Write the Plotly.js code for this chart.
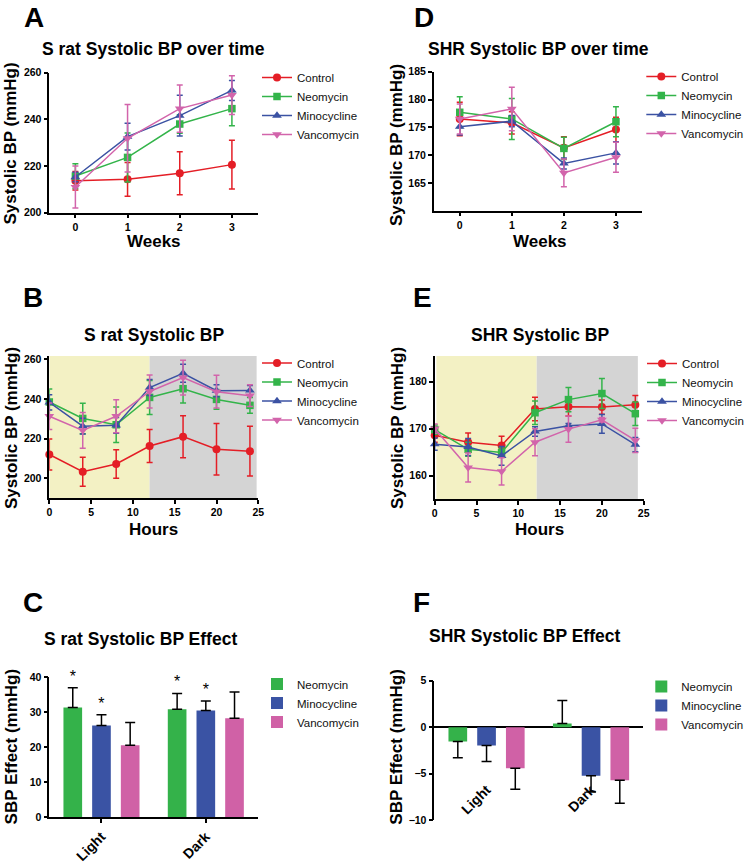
<!DOCTYPE html>
<html><head><meta charset="utf-8">
<script src="https://cdn.plot.ly/plotly-3.0.1.min.js"></script>
<style>html,body{margin:0;padding:0;background:#fff}#chart{width:745px;height:866px}</style>
</head><body><div id="chart"></div>
<script>
// ---------- DATA ----------
const seriesNames = ['Control', 'Neomycin', 'Minocycline', 'Vancomycin'];
const barNames = ['Neomycin', 'Minocycline', 'Vancomycin'];
const weeks = [0, 1, 2, 3];
const hours = [0, 4, 8, 12, 16, 20, 24];
const phases = ['Light', 'Dark'];

// A: S rat systolic BP over time (weeks)
const sWeekControl = [213.7, 214.3, 216.9, 220.6];
const sWeekControlErr = [4, 7.2, 9.2, 10.4];
const sWeekNeo = [215.7, 223.7, 238.0, 244.6];
const sWeekNeoErr = [5.3, 10.5, 4, 7.3];
const sWeekMino = [215.3, 232.6, 241.6, 252.4];
const sWeekMinoErr = [2, 5.7, 8.7, 4.3];
const sWeekVanc = [211.0, 231.9, 244.6, 250.4];
const sWeekVancErr = [9, 14.5, 10.1, 8.3];

// D: SHR systolic BP over time (weeks)
const shrWeekControl = [176.5, 175.8, 171.3, 174.6];
const shrWeekControlErr = [3, 2, 2, 2.2];
const shrWeekNeo = [177.7, 176.5, 171.2, 176.0];
const shrWeekNeoErr = [2.8, 3.7, 2, 2.7];
const shrWeekMino = [175.1, 176.1, 168.5, 170.4];
const shrWeekMinoErr = [1.5, 1, 1, 2];
const shrWeekVanc = [176.5, 178.3, 166.8, 169.6];
const shrWeekVancErr = [2.7, 3.9, 2.5, 2.7];

// B: S rat systolic BP over 24 h
const sHourControl = [212.0, 203.3, 207.2, 216.3, 221.0, 214.7, 213.7];
const sHourControlErr = [7.8, 7.3, 7.2, 8.3, 10.6, 13, 12.5];
const sHourNeo = [238.5, 230.2, 227.0, 240.8, 245.2, 239.8, 236.8];
const sHourNeoErr = [6.5, 7.7, 9, 8.6, 7.2, 5, 4];
const sHourMino = [238.3, 226.3, 226.7, 245.8, 253.0, 244.2, 244.3];
const sHourMinoErr = [3.8, 4, 4, 4, 4.5, 3, 2.5];
const sHourVanc = [231.3, 224.2, 231.3, 243.8, 250.8, 243.7, 241.7];
const sHourVancErr = [6.7, 9, 8.3, 8.3, 8.8, 8.3, 5.5];

// E: SHR systolic BP over 24 h
const shrHourControl = [168.6, 167.1, 166.4, 174.2, 174.7, 174.6, 175.1];
const shrHourControlErr = [1.5, 2, 2, 2.5, 2, 1.5, 2];
const shrHourNeo = [169.8, 165.6, 164.9, 173.4, 176.2, 177.5, 173.2];
const shrHourNeoErr = [1, 1.5, 1, 2.5, 2.6, 3.2, 2.5];
const shrHourMino = [166.7, 166.1, 164.2, 169.4, 170.6, 171.0, 166.6];
const shrHourMinoErr = [1.3, 1.8, 2, 1, 0.5, 2, 1.5];
const shrHourVanc = [170.0, 161.7, 160.9, 167.1, 169.9, 171.9, 167.5];
const shrHourVancErr = [1, 3.1, 2.9, 2.9, 2.8, 0.5, 2.6];

// light / dark phases (hours)
const sLightPhase = [0, 12];
const sDarkPhase = [12, 24.8];
const shrLightPhase = [0.2, 12.2];
const shrDarkPhase = [12.2, 24.3];

// C: S rat SBP effect
const cNeo = [31.4, 30.9];
const cNeoErr = [5.6, 4.5];
const cMino = [26.2, 30.5];
const cMinoErr = [3.1, 2.7];
const cVanc = [20.6, 28.3];
const cVancErr = [6.5, 7.5];
const cNeoSig = ['*', '*'];
const cMinoSig = ['*', '*'];
const cVancSig = ['', ''];

// F: SHR SBP effect
const fNeo = [-1.54, 0.39];
const fNeoErr = [1.76, 2.48];
const fMino = [-1.97, -5.23];
const fMinoErr = [1.72, 1.76];
const fVanc = [-4.44, -5.73];
const fVancErr = [2.26, 2.47];

// tick values
const ticksA = [200, 220, 240, 260];
const ticksD = [165, 170, 175, 180, 185];
const ticksB = [200, 220, 240, 260];
const ticksE = [160, 170, 180];
const ticksHours = [0, 5, 10, 15, 20, 25];
const ticksC = [0, 10, 20, 30, 40];
const ticksF = [-10, -5, 0, 5];

// ---------- STYLE ----------
const W = 745, H = 866;
const FONT = 'Liberation Sans, Arial, Helvetica, sans-serif';
const px = v => v / W;
const py = v => 1 - v / H;
const lineColors = ['#e41e26', '#33b44a', '#3b52a3', '#d264ab'];
const barColors = ['#34b24a', '#3a53a4', '#d061a6'];
const symbols = ['circle', 'square', 'triangle-up', 'triangle-down'];
const sizes = [8, 7.5, 8.5, 8.5];

function lineTrace(i, x, y, err, xa, ya, leg) {
  return {
    type: 'scatter', mode: 'lines+markers', name: seriesNames[i], x: x, y: y,
    xaxis: xa, yaxis: ya, legend: leg, cliponaxis: false, hoverinfo: 'x+y',
    line: {color: lineColors[i], width: 1.5},
    marker: {color: lineColors[i], symbol: symbols[i], size: sizes[i]},
    error_y: {type: 'data', array: err, visible: true, color: lineColors[i], thickness: 1.5, width: 3}
  };
}

function barTrace(i, y, err, xa, ya, leg) {
  return {
    type: 'bar', name: barNames[i], x: phases, y: y, xaxis: xa, yaxis: ya, legend: leg,
    offsetgroup: 'g' + i, marker: {color: barColors[i], line: {width: 0}},
    error_y: {type: 'data', symmetric: false,
      array: y.map((v, k) => v >= 0 ? err[k] : 0),
      arrayminus: y.map((v, k) => v < 0 ? err[k] : 0),
      color: '#000', thickness: 1.5, width: 5, visible: true}
  };
}

function starTrace(i, y, err, sig, xa, ya) {
  return {
    type: 'bar', x: phases, y: y.map((v, k) => v + err[k]), xaxis: xa, yaxis: ya,
    offsetgroup: 'g' + i, showlegend: false, hoverinfo: 'skip', cliponaxis: false,
    marker: {color: 'rgba(0,0,0,0)'}, text: sig, textposition: 'outside',
    textfont: {family: FONT, size: 16, color: '#000'}
  };
}

const data = [
  // A
  lineTrace(0, weeks, sWeekControl, sWeekControlErr, 'x', 'y', 'legend'),
  lineTrace(1, weeks, sWeekNeo, sWeekNeoErr, 'x', 'y', 'legend'),
  lineTrace(2, weeks, sWeekMino, sWeekMinoErr, 'x', 'y', 'legend'),
  lineTrace(3, weeks, sWeekVanc, sWeekVancErr, 'x', 'y', 'legend'),
  // B
  lineTrace(0, hours, sHourControl, sHourControlErr, 'x2', 'y2', 'legend2'),
  lineTrace(1, hours, sHourNeo, sHourNeoErr, 'x2', 'y2', 'legend2'),
  lineTrace(2, hours, sHourMino, sHourMinoErr, 'x2', 'y2', 'legend2'),
  lineTrace(3, hours, sHourVanc, sHourVancErr, 'x2', 'y2', 'legend2'),
  // C
  barTrace(0, cNeo, cNeoErr, 'x3', 'y3', 'legend3'),
  barTrace(1, cMino, cMinoErr, 'x3', 'y3', 'legend3'),
  barTrace(2, cVanc, cVancErr, 'x3', 'y3', 'legend3'),
  starTrace(0, cNeo, cNeoErr, cNeoSig, 'x3', 'y3'),
  starTrace(1, cMino, cMinoErr, cMinoSig, 'x3', 'y3'),
  starTrace(2, cVanc, cVancErr, cVancSig, 'x3', 'y3'),
  // D
  lineTrace(0, weeks, shrWeekControl, shrWeekControlErr, 'x4', 'y4', 'legend4'),
  lineTrace(1, weeks, shrWeekNeo, shrWeekNeoErr, 'x4', 'y4', 'legend4'),
  lineTrace(2, weeks, shrWeekMino, shrWeekMinoErr, 'x4', 'y4', 'legend4'),
  lineTrace(3, weeks, shrWeekVanc, shrWeekVancErr, 'x4', 'y4', 'legend4'),
  // E
  lineTrace(0, hours, shrHourControl, shrHourControlErr, 'x5', 'y5', 'legend5'),
  lineTrace(1, hours, shrHourNeo, shrHourNeoErr, 'x5', 'y5', 'legend5'),
  lineTrace(2, hours, shrHourMino, shrHourMinoErr, 'x5', 'y5', 'legend5'),
  lineTrace(3, hours, shrHourVanc, shrHourVancErr, 'x5', 'y5', 'legend5'),
  // F
  barTrace(0, fNeo, fNeoErr, 'x6', 'y6', 'legend6'),
  barTrace(1, fMino, fMinoErr, 'x6', 'y6', 'legend6'),
  barTrace(2, fVanc, fVancErr, 'x6', 'y6', 'legend6')
];

const tickFont = {family: FONT, size: 10.5, color: '#000', weight: 'bold'};
const axBase = {
  showline: true, linecolor: '#000', linewidth: 1.5, ticks: 'outside', ticklen: 4,
  tickwidth: 1.5, tickcolor: '#000', showgrid: false, zeroline: false,
  tickfont: tickFont, fixedrange: true, autorange: false
};
function ax(extra) { return Object.assign({}, axBase, extra); }

function legendAt(xpx, ypx) {
  return {x: px(xpx), y: py(ypx), xanchor: 'left', yanchor: 'top', bgcolor: 'rgba(0,0,0,0)',
    borderwidth: 0, font: {family: FONT, size: 11.5, color: '#111'}, itemclick: false, itemdoubleclick: false};
}

function ann(text, xp, yp, size, angle) {
  return {text: text, xref: 'paper', yref: 'paper', x: px(xp), y: py(yp), xanchor: 'center', yanchor: 'middle',
    showarrow: false, textangle: angle || 0, font: {family: FONT, size: size, color: '#000', weight: 'bold'}};
}

const layout = {
  width: W, height: H, margin: {l: 0, r: 0, t: 0, b: 0, autoexpand: false},
  paper_bgcolor: '#fff', plot_bgcolor: 'rgba(0,0,0,0)', showlegend: true,
  barmode: 'group', bargap: 0.175, bargroupgap: 0.35, hovermode: 'closest',
  // A
  xaxis: ax({domain: [px(49.3), px(258)], range: [-0.5, 3.5], tickvals: weeks, anchor: 'y'}),
  yaxis: ax({domain: [py(212.7), py(72.7)], range: [200, 260], tickvals: ticksA, anchor: 'x'}),
  // B
  xaxis2: ax({domain: [px(49.3), px(258.3)], range: [0, 25], tickvals: ticksHours, anchor: 'y2'}),
  yaxis2: ax({domain: [py(498.1), py(356)], range: [190, 261.7], tickvals: ticksB, anchor: 'x2'}),
  // C
  xaxis3: ax({domain: [px(49.3), px(258)], type: 'category', range: [-0.5, 1.5], tickangle: -45,
    tickfont: {family: FONT, size: 14, color: '#000', weight: 'bold'}, anchor: 'y3'}),
  yaxis3: ax({domain: [py(817.3), py(677.3)], range: [0, 40], tickvals: ticksC, anchor: 'x3'}),
  // D
  xaxis4: ax({domain: [px(433.7), px(642)], range: [-0.5, 3.5], tickvals: weeks, anchor: 'y4'}),
  yaxis4: ax({domain: [py(210.7), py(71.7)], range: [160, 185], tickvals: ticksD, anchor: 'x4'}),
  // E
  xaxis5: ax({domain: [px(434.7), px(643.7)], range: [0, 25], tickvals: ticksHours, anchor: 'y5'}),
  yaxis5: ax({domain: [py(499), py(356)], range: [155, 185.5], tickvals: ticksE, anchor: 'x5'}),
  // F
  xaxis6: ax({domain: [px(434.3), px(643.3)], type: 'category', range: [-0.5, 1.5], tickangle: -45,
    showline: false, ticks: '', ticklabelstandoff: -42,
    tickfont: {family: FONT, size: 14, color: '#000', weight: 'bold'}, anchor: 'y6'}),
  yaxis6: ax({domain: [py(820), py(680.7)], range: [-10, 5], tickvals: ticksF, anchor: 'x6',
    zeroline: true, zerolinecolor: '#000', zerolinewidth: 1.5}),
  legend: legendAt(257, 63),
  legend2: legendAt(257, 348.5),
  legend3: legendAt(257, 669.5),
  legend4: legendAt(641.3, 62),
  legend5: legendAt(642, 349),
  legend6: legendAt(641.3, 672),
  shapes: [
    {type: 'rect', xref: 'x2', yref: 'y2 domain', x0: sLightPhase[0], x1: sLightPhase[1], y0: 0, y1: 1, fillcolor: '#f3f1c4', line: {width: 0}, layer: 'below'},
    {type: 'rect', xref: 'x2', yref: 'y2 domain', x0: sDarkPhase[0], x1: sDarkPhase[1], y0: 0, y1: 1, fillcolor: '#d4d4d4', line: {width: 0}, layer: 'below'},
    {type: 'rect', xref: 'x5', yref: 'y5 domain', x0: shrLightPhase[0], x1: shrLightPhase[1], y0: 0, y1: 1, fillcolor: '#f3f1c4', line: {width: 0}, layer: 'below'},
    {type: 'rect', xref: 'x5', yref: 'y5 domain', x0: shrDarkPhase[0], x1: shrDarkPhase[1], y0: 0, y1: 1, fillcolor: '#d4d4d4', line: {width: 0}, layer: 'below'}
  ],
  annotations: [
    ann('A', 33.5, 17, 28), ann('B', 33, 297, 28), ann('C', 33, 602, 28),
    ann('D', 423.7, 17, 28), ann('E', 422.5, 297, 28), ann('F', 421, 602, 28),
    ann('S rat Systolic BP over time', 153, 49, 17.5),
    ann('SHR Systolic BP over time', 538.7, 49, 17.5),
    ann('S rat Systolic BP', 153.5, 335, 17.5),
    ann('SHR Systolic BP', 540.3, 335, 17.5),
    ann('S rat Systolic BP Effect', 140, 639, 17.5),
    ann('SHR Systolic BP Effect', 524.5, 635.5, 17.5),
    ann('Systolic BP (mmHg)', 9.5, 144, 17, -90),
    ann('Systolic BP (mmHg)', 396, 145, 17, -90),
    ann('Systolic BP (mmHg)', 11, 428, 17, -90),
    ann('Systolic BP (mmHg)', 397, 428, 17, -90),
    ann('SBP Effect (mmHg)', 11.7, 746.7, 17, -90),
    ann('SBP Effect (mmHg)', 397, 746.7, 17, -90),
    ann('Weeks', 154, 241.5, 17),
    ann('Weeks', 539.5, 241.5, 17),
    ann('Hours', 153.8, 529, 17),
    ann('Hours', 539.5, 529, 17)
  ]
};

Plotly.newPlot('chart', data, layout, {displayModeBar: false, staticPlot: false});
</script>
</body></html>
